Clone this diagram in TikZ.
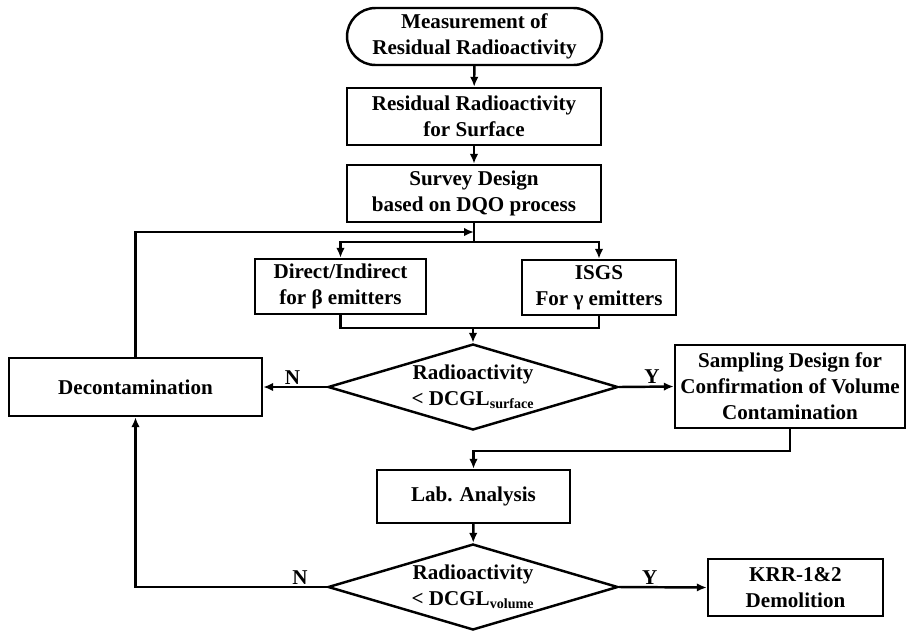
\documentclass[tikz,border=0pt]{standalone}
\usepackage{fontspec}
\setmainfont{Liberation Serif}
\usetikzlibrary{shapes.geometric, shapes.misc, arrows.meta}

\begin{document}
\begin{tikzpicture}[x=0.02cm, y=-0.02cm, line width=1.4pt,
    >={Latex[length=2mm,width=1.7mm]},
    font=\bfseries\fontsize{12}{14.8}\selectfont,
    procbox/.style={rectangle, draw, align=center, inner sep=0pt},
    decision/.style={diamond, draw, align=center, inner sep=0pt, shape aspect=3.35,
        minimum width=5.8cm, minimum height=1.72cm},
    yn/.style={inner sep=1pt}]
    \useasboundingbox (0,0) rectangle (907,630);

    % Nodes
    \node[rounded rectangle, draw, align=center, inner sep=0pt, minimum width=5.1cm, minimum height=1.14cm] (start) at (474.5,36.5) {Measurement of\\Residual Radioactivity};
    \node[procbox, minimum width=5.08cm, minimum height=1.14cm] (surf) at (474,116.5) {Residual Radioactivity\\for Surface};
    \node[procbox, minimum width=5.08cm, minimum height=1.14cm] (survey) at (474,193.5) {Survey Design\\based on DQO process};
    \node[procbox, minimum width=3.42cm, minimum height=1.1cm] (direct) at (340.5,286.5) {Direct/Indirect\\for β emitters};
    \node[procbox, minimum width=3.08cm, minimum height=1.1cm] (isgs) at (599,287.5) {ISGS\\For γ emitters};
    \node[decision] (dec1) at (473,387) {Radioactivity\\< DCGL\textsubscript{surface}};
    \node[procbox, minimum width=4.6cm, minimum height=1.66cm] (samp) at (790,386.5) {Sampling Design for\\Confirmation of Volume\\Contamination};
    \node[procbox, minimum width=5.06cm, minimum height=1.16cm] (decon) at (135.5,387) {Decontamination};
    \node[procbox, minimum width=3.86cm, minimum height=1.06cm] (lab) at (473.5,496.5) {Lab. Analysis};
    \node[decision] (dec2) at (473,587) {Radioactivity\\< DCGL\textsubscript{volume}};
    \node[procbox, minimum width=3.5cm, minimum height=1.14cm] (krr) at (795.5,587.5) {KRR-1\&2\\Demolition};

    \coordinate (fb) at (survey.south |- 0,232);
    \coordinate (split) at (survey.south |- 0,242);
    \coordinate (merge) at (dec1.north |- 0,328);

    % Arrows
    \draw[->] (start) -- (surf);
    \draw[->] (surf) -- (survey);
    \draw (survey.south) -- (split);
    \draw[->] (split) -| (direct.north);
    \draw[->] (split) -| (isgs.north);
    \draw (direct.south) |- (merge) -| (isgs.south);
    \draw[->] (merge) -- (dec1.north);
    \draw[->] (dec1.west) -- node[yn, above, pos=0.54] {N} (decon.east);
    \draw[->] (dec1.east) -- node[yn, above, pos=0.6] {Y} (samp.west);
    \draw[->] (samp.south) -- ++(0,22) -| (lab.north);
    \draw[->] (lab) -- (dec2);
    \draw[->] (dec2.east) -- node[yn, above, pos=0.35] {Y} (krr.west);
    \draw[->] (dec2.west) -| node[yn, above, pos=0.07] {N} (decon.south);
    \draw[->] (decon.north) |- (fb);
\end{tikzpicture}
\end{document}
